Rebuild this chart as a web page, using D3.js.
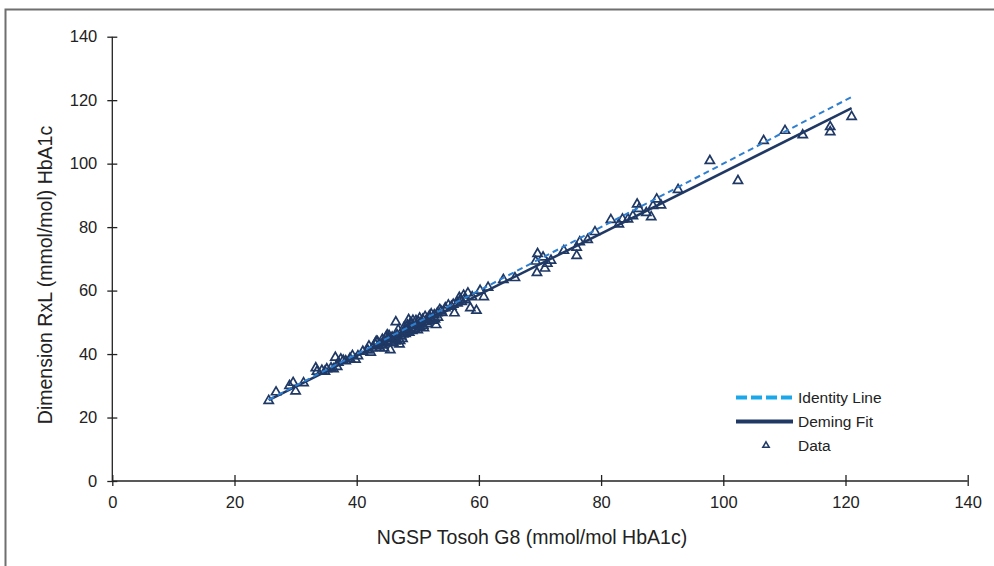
<!DOCTYPE html>
<html>
<head>
  <meta charset="utf-8">
  <title>Dimension RxL vs NGSP Tosoh G8</title>
  <style>
    body { margin: 0; background: #fff; }
    svg text { font-family: "Liberation Sans", Arial, sans-serif; fill: #222; }
    .axis path, .axis line { stroke: #222; stroke-width: 1.3; }
    .axis text { font-size: 16.5px; }
    .title { font-size: 19.5px; }
    .legend text { font-size: 15.5px; }
  </style>
</head>
<body>
  <div id="chart"></div>

  <script src="https://d3js.org/d3.v7.min.js"></script>

  <script>
    // tick values
    let xTicks = [0, 20, 40, 60, 80, 100, 120, 140];
    let yTicks = [0, 20, 40, 60, 80, 100, 120, 140];

    // measurements: Tosoh G8 (x) vs Dimension RxL (y), mmol/mol
    let tosoh = [
      25.6, 26.8, 29.0, 29.6, 30.0, 31.3, 33.3, 33.5, 34.3, 35.1, 35.8, 36.5, 36.8, 37.0, 37.8,
      38.9, 39.8, 40.2, 41.0, 41.8, 42.3, 42.6, 43.2, 43.5, 44.0, 44.2, 44.5, 45.0, 45.2, 45.5,
      45.8, 46.0, 46.4, 46.6, 47.0, 47.3, 47.5, 47.8, 48.0, 48.3, 48.6, 48.9, 49.2, 49.5, 49.8,
      50.1, 50.4, 50.8, 51.0, 51.3, 51.6, 52.0, 52.4, 52.7, 53.0, 53.3, 53.6, 54.5, 55.0, 56.0,
      56.5, 57.0, 57.5, 58.2, 58.6, 59.6, 60.2, 60.8, 61.5, 64.0, 65.9, 69.3, 69.6, 69.5, 70.5,
      70.8, 71.2, 71.8, 73.9, 76.0, 76.0, 76.5, 77.8, 79.0, 81.6, 82.9, 83.5, 84.4, 85.2, 85.9,
      86.2, 87.4, 88.2, 88.5, 89.1, 89.8, 92.6, 97.8, 102.4, 106.6, 110.1, 113.0, 117.5, 117.5, 121.0,
      43.0, 43.8, 44.6, 45.0, 45.6, 46.2, 46.8, 47.1, 47.7, 48.2, 48.5, 49.0, 49.4, 49.7, 50.0,
      50.3, 50.6, 51.2, 51.8, 52.2, 52.8, 53.2, 54.0, 55.5, 56.8, 57.8, 46.5, 44.8, 43.4, 48.8,
      51.5, 50.9, 42.0, 39.3, 38.2, 36.2, 37.4, 34.8,
      44.3, 45.3, 46.3, 47.6, 48.4, 49.1, 50.2, 51.9, 53.8, 55.8, 57.2, 58.9
    ];
    let dimension = [
      25.3, 28.0, 30.0, 31.0, 28.3, 30.9, 35.6, 34.5, 34.8, 35.3, 35.6, 38.9, 36.0, 37.3, 38.0,
      38.6, 38.3, 39.4, 40.8, 41.2, 40.5, 41.8, 44.0, 42.5, 43.0, 44.6, 41.8, 43.8, 44.7, 41.3,
      45.3, 43.5, 50.1, 46.0, 43.1, 45.6, 44.8, 47.5, 46.4, 49.1, 46.8, 48.3, 50.6, 47.7, 49.0,
      50.2, 48.5, 50.9, 48.2, 50.2, 49.5, 51.4, 50.6, 52.3, 49.2, 51.5, 54.0, 54.5, 55.4, 52.9,
      56.0, 57.2, 58.5, 59.2, 54.5, 53.7, 60.0, 58.0, 61.0, 63.4, 64.0, 69.2, 71.6, 65.6, 70.5,
      67.0, 68.5, 69.5, 72.6, 73.6, 71.0, 75.3, 76.0, 78.5, 82.3, 80.9, 82.5, 82.5, 83.5, 87.2,
      85.8, 84.5, 83.2, 86.7, 88.8, 86.9, 91.8, 100.9, 94.6, 107.2, 110.4, 109.0, 111.6, 110.0, 114.8,
      43.2, 42.0, 43.5, 46.0, 44.0, 45.0, 47.6, 44.2, 48.2, 47.0, 50.8, 49.6, 48.0, 50.5, 47.6,
      51.3, 49.8, 51.8, 50.3, 52.6, 51.0, 52.9, 53.0, 55.0, 57.8, 57.0, 44.5, 45.3, 43.9, 49.8,
      51.0, 49.0, 42.5, 39.5, 37.8, 35.3, 38.4, 34.5,
      42.8, 45.8, 44.0, 46.2, 48.0, 47.3, 49.0, 52.0, 53.5, 55.6, 56.5, 58.0
    ];

    // fitted lines, endpoints
    let identityX = [25.6, 121.0];
    let identityY = [25.6, 121.0];
    let demingX = [25.6, 121.0];
    let demingY = [25.5, 117.5];

    let legendLabels = ['Identity Line', 'Deming Fit', 'Data'];

    let W = 994, H = 566;
    let margin = { top: 36.7, left: 112.3, right: 994 - 967.7, bottom: 566 - 481 };

    let svg = d3.select('#chart')
      .append('svg')
      .attr('width', W)
      .attr('height', H);

    // frame
    svg.append('path')
      .attr('d', `M5.5,${H} V9.5 H${W}`)
      .attr('fill', 'none')
      .attr('stroke', '#6f6f6f')
      .attr('stroke-width', 2);

    let x = d3.scaleLinear()
      .domain([0, 140])
      .range([margin.left, W - margin.right]);

    let y = d3.scaleLinear()
      .domain([0, 140])
      .range([H - margin.bottom, margin.top]);

    // y axis, cross ticks
    let gy = svg.append('g')
      .attr('class', 'axis')
      .attr('transform', `translate(${margin.left},0)`)
      .call(d3.axisLeft(y).tickValues(yTicks).tickSizeInner(5).tickSizeOuter(0).tickPadding(10));
    gy.selectAll('.tick').append('line').attr('x2', 5).attr('stroke', '#222');

    // x axis
    let gx = svg.append('g')
      .attr('class', 'axis')
      .attr('transform', `translate(0,${H - margin.bottom})`)
      .call(d3.axisBottom(x).tickValues(xTicks).tickSizeInner(5).tickSizeOuter(0).tickPadding(10));
    gx.selectAll('.tick').append('line').attr('y2', -6).attr('stroke', '#222');
    gx.select('.domain').attr('d', `M${x(0)},0H${x(140)}`);
    gy.select('.domain').attr('d', `M0,${y(0)}V${y(140)}`);

    // axis titles
    svg.append('text')
      .attr('class', 'title')
      .attr('x', 532)
      .attr('y', 544)
      .attr('text-anchor', 'middle')
      .text('NGSP Tosoh G8 (mmol/mol HbA1c)');

    svg.append('text')
      .attr('class', 'title')
      .attr('transform', `translate(52, 275) rotate(-90)`)
      .attr('text-anchor', 'middle')
      .text('Dimension RxL (mmol/mol) HbA1c');

    // data points
    let pts = tosoh.map((v, i) => [v, dimension[i]]);
    let tri = d3.symbol().type(d3.symbolTriangle).size(36);

    svg.append('g')
      .selectAll('path')
      .data(pts)
      .join('path')
      .attr('d', tri)
      .attr('transform', d => `translate(${x(d[0])},${y(d[1])})`)
      .attr('fill', 'none')
      .attr('stroke', '#1f3864')
      .attr('stroke-width', 1.7);

    let line = d3.line()
      .x(d => x(d[0]))
      .y(d => y(d[1]));

    svg.append('path')
      .datum(demingX.map((v, i) => [v, demingY[i]]))
      .attr('d', line)
      .attr('fill', 'none')
      .attr('stroke', '#1f3864')
      .attr('stroke-width', 2.5);

    svg.append('path')
      .datum(identityX.map((v, i) => [v, identityY[i]]))
      .attr('d', line)
      .attr('fill', 'none')
      .attr('stroke', '#2f7fd0')
      .attr('stroke-width', 2)
      .attr('stroke-dasharray', '6,4');

    // legend
    let lg = svg.append('g').attr('class', 'legend');
    let lx = 736, ly = [397.5, 421.5, 445.5];

    lg.append('line')
      .attr('x1', lx).attr('x2', lx + 57)
      .attr('y1', ly[0]).attr('y2', ly[0])
      .attr('stroke', '#1ba8ea')
      .attr('stroke-width', 4)
      .attr('stroke-dasharray', '11,4');

    lg.append('line')
      .attr('x1', lx).attr('x2', lx + 57)
      .attr('y1', ly[1]).attr('y2', ly[1])
      .attr('stroke', '#1f3864')
      .attr('stroke-width', 4);

    lg.append('path')
      .attr('d', d3.symbol().type(d3.symbolTriangle).size(18))
      .attr('transform', `translate(${lx + 30},${ly[2]})`)
      .attr('fill', 'none')
      .attr('stroke', '#1f3864')
      .attr('stroke-width', 1.5);

    lg.selectAll('text')
      .data(legendLabels)
      .join('text')
      .attr('x', 798)
      .attr('y', (d, i) => ly[i])
      .attr('dy', '0.35em')
      .text(d => d);
  </script>
</body>
</html>
